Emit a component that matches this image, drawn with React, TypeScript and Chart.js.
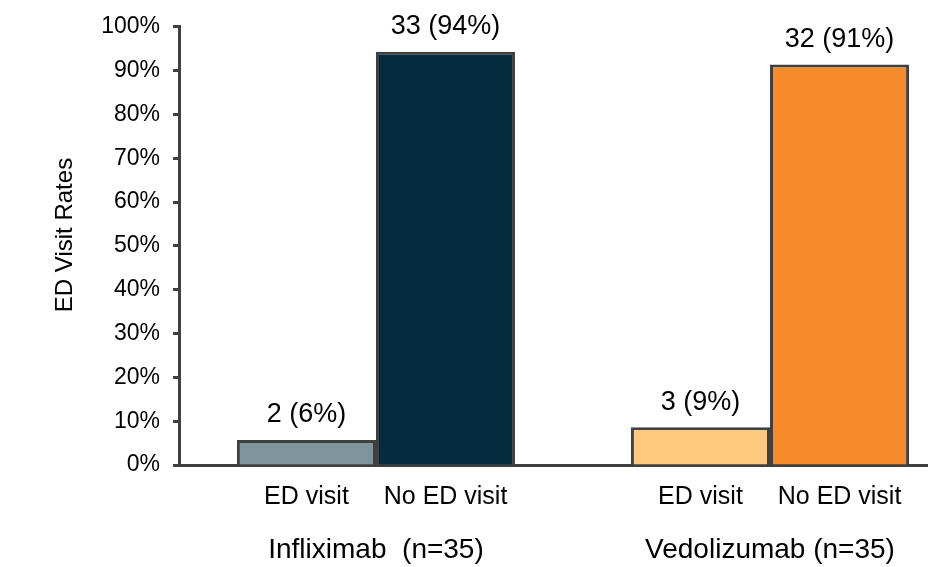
import React, { useEffect, useRef } from "react";
import { Chart, registerables } from "chart.js";

Chart.register(...registerables);

const groups = ["Infliximab  (n=35)", "Vedolizumab (n=35)"];
const subLabels = ["ED visit", "No ED visit"];
const edVisitPct = [5.7, 8.6];
const noEdVisitPct = [94.3, 91.4];
const edVisitLabels = ["2 (6%)", "3 (9%)"];
const noEdVisitLabels = ["33 (94%)", "32 (91%)"];
const edVisitColors = ["#7f959c", "#fec97f"];
const noEdVisitColors = ["#042a3e", "#f58b2a"];
const yTicks = [0, 10, 20, 30, 40, 50, 60, 70, 80, 90, 100];
const yTitle = "ED Visit Rates";

const FONT = "'Liberation Sans', Arial, sans-serif";
const CANVAS_W = 967;

export default function App() {
  const ref = useRef<HTMLCanvasElement | null>(null);
  useEffect(() => {
    if (!ref.current) return;
    const valueLabels = [edVisitLabels, noEdVisitLabels];
    const textPlugin = {
      id: "texts",
      afterDatasetsDraw(chart: any) {
        const ctx = chart.ctx;
        ctx.save();
        ctx.fillStyle = "#000";
        ctx.textAlign = "center";
        ctx.textBaseline = "middle";
        chart.data.datasets.forEach((ds: any, di: number) => {
          const meta = chart.getDatasetMeta(di);
          meta.data.forEach((el: any, i: number) => {
            ctx.font = `27px ${FONT}`;
            ctx.fillText(valueLabels[di][i], el.x, el.y - 25);
            ctx.font = `25px ${FONT}`;
            ctx.fillText(subLabels[di], el.x, 497);
          });
        });
        ctx.font = `24px ${FONT}`;
        ctx.translate(65, 235);
        ctx.rotate(-Math.PI / 2);
        ctx.fillText(yTitle, 0, 0);
        ctx.restore();
      },
    };
    const chart = new Chart(ref.current, {
      type: "bar",
      data: {
        labels: groups,
        datasets: [
          {
            label: subLabels[0],
            data: edVisitPct,
            backgroundColor: edVisitColors,
            borderColor: "#404040",
            borderWidth: 3,
          },
          {
            label: subLabels[1],
            data: noEdVisitPct,
            backgroundColor: noEdVisitColors,
            borderColor: "#404040",
            borderWidth: 3,
          },
        ],
      },
      options: {
        animation: false,
        responsive: false,
        maintainAspectRatio: false,
        layout: { padding: { top: 24, right: 0, left: 0, bottom: 0 } },
        plugins: { legend: { display: false }, tooltip: { enabled: false } },
        datasets: { bar: { categoryPercentage: 0.706, barPercentage: 1 } },
        scales: {
          x: {
            grid: { display: false, drawTicks: false },
            border: { display: true, color: "#404040", width: 3 },
            ticks: {
              color: "#000",
              font: { family: FONT, size: 28 },
              padding: 68,
              maxRotation: 0,
            },
            afterFit: (s: any) => {
              s.height = 102;
            },
          },
          y: {
            min: 0,
            max: 100,
            afterBuildTicks: (s: any) => {
              s.ticks = yTicks.map((v) => ({ value: v }));
            },
            grid: {
              display: true,
              drawOnChartArea: false,
              drawTicks: true,
              tickLength: 6,
              tickWidth: 3,
              tickColor: "#404040",
            },
            border: { display: true, color: "#404040", width: 3 },
            ticks: {
              color: "#000",
              font: { family: FONT, size: 23 },
              padding: 13,
              callback: (v: any) => `${v}%`,
            },
            afterFit: (s: any) => {
              s.width = 179;
            },
          },
        },
      },
      plugins: [textPlugin],
    });
    return () => chart.destroy();
  }, []);
  return (
    <div
      style={{
        position: "absolute",
        left: 0,
        top: 0,
        width: 928,
        height: 567,
        overflow: "hidden",
        background: "#fff",
      }}
    >
      <canvas ref={ref} width={CANVAS_W} height={567} style={{ display: "block" }} />
    </div>
  );
}
